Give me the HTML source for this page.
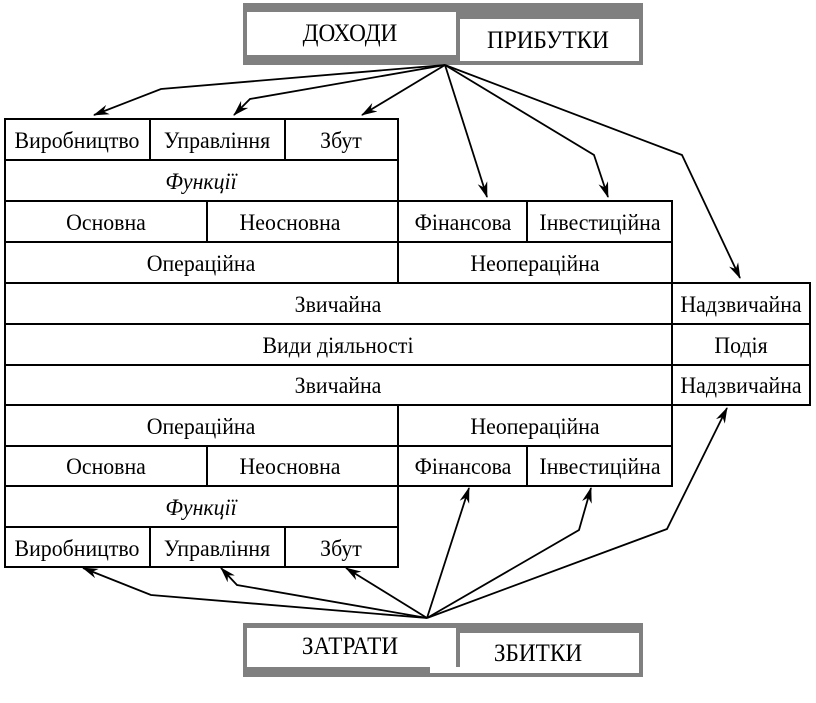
<!DOCTYPE html>
<html><head><meta charset="utf-8"><style>
html,body{margin:0;padding:0;background:#fff;}
svg{display:block;}
text{font-family:"Liberation Serif",serif;font-size:23px;fill:#000;text-anchor:middle;}
.h{font-size:25px;}
</style></head><body>
<svg width="816" height="703" viewBox="0 0 816 703" xmlns="http://www.w3.org/2000/svg">
<defs>
<marker id="a" viewBox="0 0 16 10" refX="15" refY="5" markerWidth="16" markerHeight="10" markerUnits="userSpaceOnUse" orient="auto">
<path d="M0,0 L16,5 L0,10 L5,5 Z" fill="#000"/>
</marker>
</defs>
<rect x="243" y="3" width="400" height="62" fill="#808080"/>
<rect x="247" y="12" width="209" height="43" fill="#fff"/>
<rect x="460" y="19" width="179" height="42" fill="#fff"/>
<text class="h" transform="translate(350,41) scale(0.93,1)">ДОХОДИ</text>
<text class="h" transform="translate(548,48) scale(0.93,1)">ПРИБУТКИ</text>
<rect x="243" y="623" width="400" height="54" fill="#808080"/>
<rect x="247" y="628" width="209" height="39" fill="#fff"/>
<rect x="460" y="633" width="179" height="40" fill="#fff"/>
<rect x="430" y="667" width="30" height="6" fill="#fff"/>
<text class="h" transform="translate(350,654) scale(0.93,1)">ЗАТРАТИ</text>
<text class="h" transform="translate(538,661) scale(0.93,1)">ЗБИТКИ</text>
<g fill="none" stroke="#000" stroke-width="2">
<rect x="5" y="119" width="393" height="82"/>
<line x1="5" y1="160" x2="398" y2="160"/>
<line x1="150" y1="119" x2="150" y2="160"/>
<line x1="285" y1="119" x2="285" y2="160"/>
<rect x="5" y="201" width="667" height="204"/>
<line x1="5" y1="242" x2="672" y2="242"/>
<line x1="5" y1="283" x2="672" y2="283"/>
<line x1="5" y1="324" x2="672" y2="324"/>
<line x1="5" y1="365" x2="672" y2="365"/>
<line x1="207" y1="201" x2="207" y2="242"/>
<line x1="398" y1="201" x2="398" y2="283"/>
<line x1="527" y1="201" x2="527" y2="242"/>
<rect x="672" y="283" width="138" height="122"/>
<line x1="672" y1="324" x2="810" y2="324"/>
<line x1="672" y1="365" x2="810" y2="365"/>
<rect x="5" y="405" width="667" height="81"/>
<line x1="5" y1="446" x2="672" y2="446"/>
<line x1="398" y1="405" x2="398" y2="486"/>
<line x1="207" y1="446" x2="207" y2="486"/>
<line x1="527" y1="446" x2="527" y2="486"/>
<rect x="5" y="486" width="393" height="81"/>
<line x1="5" y1="527" x2="398" y2="527"/>
<line x1="150" y1="527" x2="150" y2="567"/>
<line x1="285" y1="527" x2="285" y2="567"/>
</g>
<g>
<text transform="translate(77,148) scale(0.95,1)">Виробництво</text>
<text transform="translate(217,148) scale(0.95,1)">Управління</text>
<text transform="translate(341,148) scale(0.95,1)">Збут</text>
<text transform="translate(201,189) scale(0.95,1)" font-style="italic">Функції</text>
<text transform="translate(106,230) scale(0.95,1)">Основна</text>
<text transform="translate(290,230) scale(0.95,1)">Неосновна</text>
<text transform="translate(463,230) scale(0.95,1)">Фінансова</text>
<text transform="translate(600,230) scale(0.95,1)">Інвестиційна</text>
<text transform="translate(201,271) scale(0.95,1)">Операційна</text>
<text transform="translate(535,271) scale(0.95,1)">Неопераційна</text>
<text transform="translate(338,312) scale(0.95,1)">Звичайна</text>
<text transform="translate(741,312) scale(0.95,1)">Надзвичайна</text>
<text transform="translate(338,353) scale(0.95,1)">Види діяльності</text>
<text transform="translate(741,353) scale(0.95,1)">Подія</text>
<text transform="translate(338,393) scale(0.95,1)">Звичайна</text>
<text transform="translate(741,393) scale(0.95,1)">Надзвичайна</text>
<text transform="translate(201,434) scale(0.95,1)">Операційна</text>
<text transform="translate(535,434) scale(0.95,1)">Неопераційна</text>
<text transform="translate(106,474) scale(0.95,1)">Основна</text>
<text transform="translate(290,474) scale(0.95,1)">Неосновна</text>
<text transform="translate(463,474) scale(0.95,1)">Фінансова</text>
<text transform="translate(600,474) scale(0.95,1)">Інвестиційна</text>
<text transform="translate(201,515) scale(0.95,1)" font-style="italic">Функції</text>
<text transform="translate(77,556) scale(0.95,1)">Виробництво</text>
<text transform="translate(217,556) scale(0.95,1)">Управління</text>
<text transform="translate(341,556) scale(0.95,1)">Збут</text>
</g>
<g fill="none" stroke="#000" stroke-width="1.8" marker-end="url(#a)">
<polyline points="445,65 161,89 94,115"/>
<polyline points="445,65 250,99 234,115"/>
<polyline points="445,65 362,115"/>
<polyline points="445,65 487,197"/>
<polyline points="445,65 594,155 608,197"/>
<polyline points="445,65 682,155 740,278"/>
<polyline points="427,618 151,595 83,568"/>
<polyline points="427,618 237,585 221,568"/>
<polyline points="427,618 346,568"/>
<polyline points="427,618 469,488"/>
<polyline points="427,618 579,530 591,488"/>
<polyline points="427,618 667,529 727,408"/>
</g>
</svg>
</body></html>
